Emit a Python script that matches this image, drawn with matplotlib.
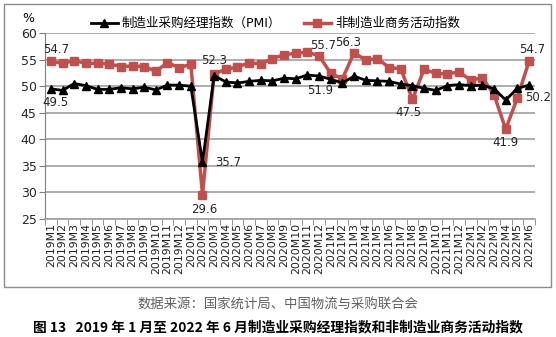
import matplotlib

matplotlib.use("Agg")
import matplotlib.pyplot as plt
from matplotlib.patches import Rectangle

plt.rcParams["font.family"] = ["DejaVu Sans", "Noto Sans CJK SC"]

# monthly index values, 2019M1 .. 2022M6
months = [f"{y}M{m}" for y in (2019, 2020, 2021) for m in range(1, 13)] + [
    f"2022M{m}" for m in range(1, 7)
]
pmi = [
    49.5, 49.2, 50.5, 50.1, 49.4, 49.4, 49.7, 49.5, 49.8, 49.3, 50.2, 50.2,
    50.0, 35.7, 52.0, 50.8, 50.6, 50.9, 51.1, 51.0, 51.5, 51.4, 52.1, 51.9,
    51.3, 50.6, 51.9, 51.1, 51.0, 50.9, 50.4, 50.1, 49.6, 49.2, 50.1, 50.3,
    50.1, 50.2, 49.5, 47.4, 49.6, 50.2,
]
non_mfg = [
    54.7, 54.3, 54.8, 54.3, 54.3, 54.2, 53.7, 53.8, 53.7, 52.8, 54.4, 53.5,
    54.1, 29.6, 52.3, 53.2, 53.6, 54.4, 54.2, 55.2, 55.9, 56.2, 56.4, 55.7,
    52.4, 51.4, 56.3, 54.9, 55.2, 53.5, 53.3, 47.5, 53.2, 52.4, 52.3, 52.7,
    51.1, 51.6, 48.4, 41.9, 47.8, 54.7,
]

RED = "#C0504D"
x = list(range(len(months)))

fig = plt.figure(figsize=(5.56, 3.37), dpi=100)
ax = fig.add_axes([0.081, 0.350, 0.881, 0.552])

# outer chart frame
fig.patches.append(Rectangle((4 / 556, 1 - 287 / 337), 547 / 556, 283 / 337,
                             transform=fig.transFigure, fill=False,
                             edgecolor="#8c8c8c", linewidth=1.0))

ax.plot(x, pmi, color="black", linewidth=2, marker="^", markersize=6,
        label="制造业采购经理指数（PMI）", zorder=3)
ax.plot(x, non_mfg, color=RED, linewidth=2.5, marker="s", markersize=5.5,
        label="非制造业商务活动指数", zorder=2)

ax.set_xlim(-0.5, len(months) - 0.5)
ax.set_ylim(25, 60)
ax.set_yticks(range(25, 61, 5))
ax.tick_params(axis="y", labelsize=9, length=4, color="#7f7f7f", pad=2,
               labelcolor="#262626")
ax.set_xticks(x)
ax.set_xticklabels(months, rotation=90, fontsize=7.8, color="#202020")
ax.set_xticks([i - 0.5 for i in range(len(months) + 1)], minor=True)
ax.tick_params(axis="x", which="major", length=0, pad=3)
ax.tick_params(axis="x", which="minor", length=4, color="#7f7f7f")
ax.grid(axis="y", color="#a0a0a0", linewidth=1.2)
ax.set_axisbelow(True)
for s in ("top", "right"):
    ax.spines[s].set_visible(False)
ax.spines["left"].set_color("#7f7f7f")
ax.spines["bottom"].set_color("#a0a0a0")
ax.spines["bottom"].set_linewidth(1.2)

ax.text(-0.035, 1.045, "%", transform=ax.transAxes, fontsize=9,
        ha="center", va="bottom")

ax.legend(loc="lower center", bbox_to_anchor=(0.47, 0.99), ncol=2,
          frameon=False, fontsize=9, handlelength=2.2, columnspacing=1.8,
          borderaxespad=0, handletextpad=0.3)

# value labels: (index, series, dx, dy, ha, va) in points
labels = [
    (0, non_mfg, 4, 4, "center", "bottom"),
    (0, pmi, 3, -5, "center", "top"),
    (14, non_mfg, 0, 5, "center", "bottom"),
    (13, pmi, 9, 0, "left", "center"),
    (13, non_mfg, 1, -6, "center", "top"),
    (23, non_mfg, 3, 3, "center", "bottom"),
    (26, non_mfg, -4, 3, "center", "bottom"),
    (23, pmi, 1, -6, "center", "top"),
    (31, non_mfg, -3, -5, "center", "top"),
    (39, non_mfg, 0, -5, "center", "top"),
    (41, non_mfg, 2, 4, "center", "bottom"),
    (41, pmi, -3, -4, "left", "top"),
]
for i, series, dx, dy, ha, va in labels:
    ax.annotate(f"{series[i]:.1f}", (x[i], series[i]), xytext=(dx, dy),
                textcoords="offset points", ha=ha, va=va, fontsize=8.5,
                color="#262626")

fig.text(0.5, 1 - 305 / 337, "数据来源：国家统计局、中国物流与采购联合会",
         ha="center", va="center", fontsize=9.6, color="#606060",
         family=["Noto Sans CJK SC"])
fig.text(0.5, 1 - 327 / 337,
         "图 13   2019 年 1 月至 2022 年 6 月制造业采购经理指数和非制造业商务活动指数",
         ha="center", va="center", fontsize=9.9, fontweight="bold",
         family=["Noto Sans CJK SC"])

fig.savefig("out.png", dpi=100)
